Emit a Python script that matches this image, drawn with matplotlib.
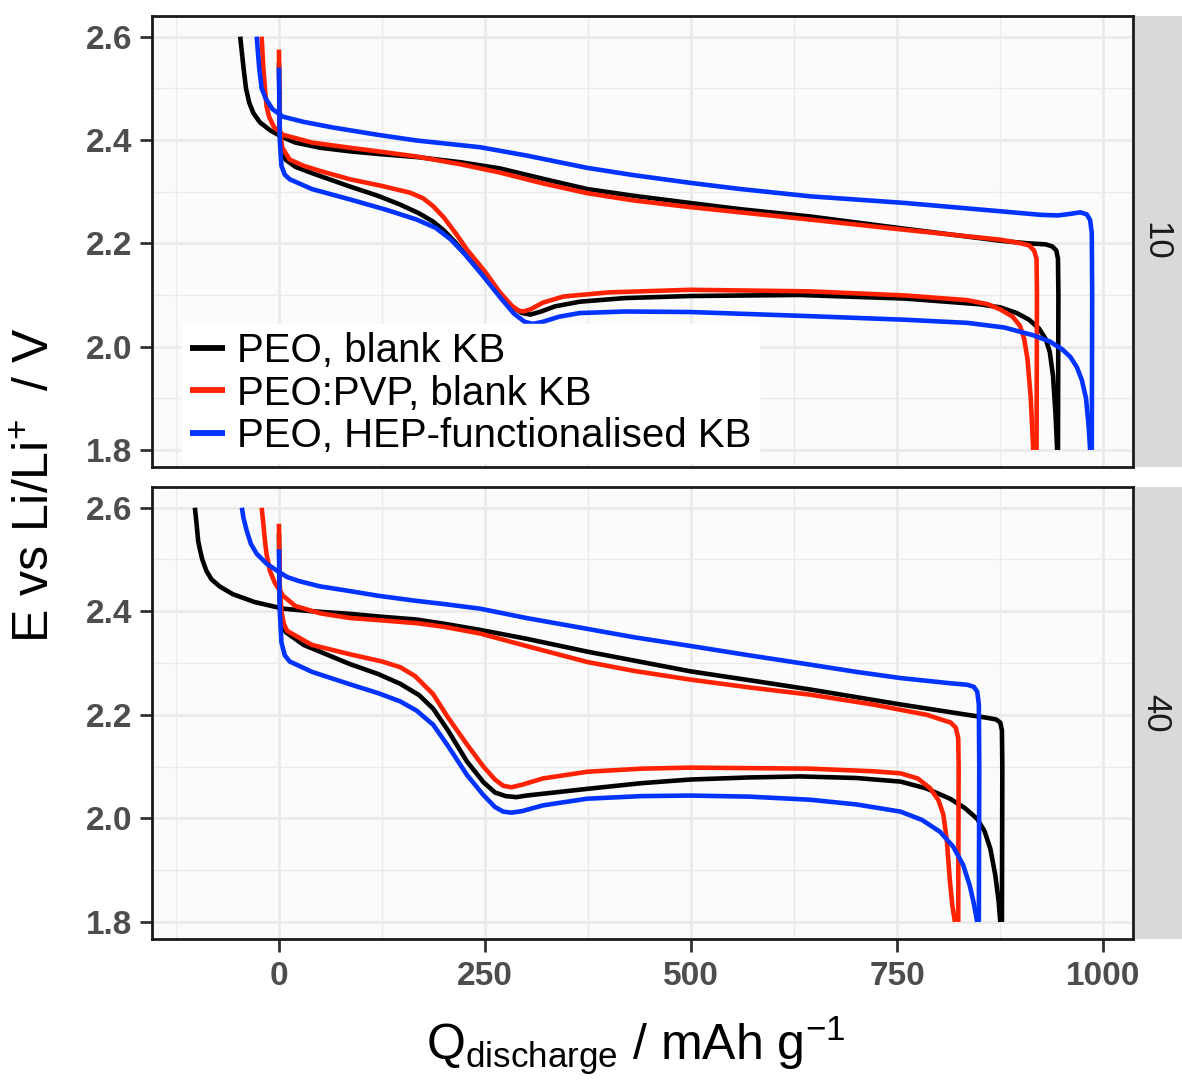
import matplotlib
matplotlib.use("Agg")
import matplotlib.pyplot as plt
from matplotlib.ticker import MultipleLocator

plt.rcParams['font.family'] = ['Liberation Sans', 'DejaVu Sans']
plt.rcParams['mathtext.fontset'] = 'custom'
plt.rcParams['mathtext.rm'] = 'Liberation Sans'
plt.rcParams['mathtext.it'] = 'Liberation Sans:italic'
plt.rcParams['mathtext.bf'] = 'Liberation Sans:bold'

series_labels = ["PEO, blank KB", "PEO:PVP, blank KB", "PEO, HEP-functionalised KB"]
series_colors = ["#000000", "#ff2200", "#0033ff"]
facets = ["10", "40"]

# ---- panel "10" ----
q10_black_dis = [0, 1, 3, 8, 20, 45, 86, 120, 147, 170, 187, 200, 215, 228, 250, 268, 283, 295, 305, 318, 335, 365, 420, 499, 632, 760, 850, 875, 895, 910, 922, 930, 935, 939, 942, 944]
e10_black_dis = [2.55, 2.42, 2.385, 2.362, 2.348, 2.333, 2.31, 2.292, 2.275, 2.258, 2.242, 2.225, 2.2, 2.175, 2.135, 2.1, 2.077, 2.065, 2.062, 2.068, 2.078, 2.087, 2.094, 2.098, 2.10, 2.093, 2.082, 2.076, 2.065, 2.052, 2.035, 2.015, 1.99, 1.943, 1.87, 1.80]
q10_black_chg = [945, 945.5, 945, 943, 938, 930, 908, 875, 760, 644, 560, 499, 430, 374, 320, 268, 220, 167, 120, 86, 50, 20, 5, -10, -23, -31, -36, -40, -43, -45, -47]
e10_black_chg = [1.80, 2.10, 2.17, 2.186, 2.194, 2.198, 2.200, 2.205, 2.228, 2.252, 2.266, 2.278, 2.292, 2.305, 2.325, 2.345, 2.357, 2.367, 2.373, 2.378, 2.385, 2.395, 2.405, 2.418, 2.434, 2.452, 2.472, 2.50, 2.54, 2.57, 2.60]

q10_red_dis = [0, 1, 4, 13, 30, 50, 86, 125, 159, 175, 187, 200, 215, 228, 250, 268, 282, 290, 296, 305, 320, 345, 400, 499, 644, 760, 835, 860, 875, 890, 899, 904, 908, 912, 915]
e10_red_dis = [2.575, 2.42, 2.385, 2.362, 2.35, 2.34, 2.324, 2.311, 2.298, 2.287, 2.272, 2.25, 2.218, 2.188, 2.145, 2.105, 2.08, 2.07, 2.068, 2.072, 2.085, 2.097, 2.105, 2.11, 2.107, 2.099, 2.09, 2.082, 2.072, 2.058, 2.04, 2.015, 1.976, 1.90, 1.80]
q10_red_chg = [919, 919.5, 919, 916, 910, 900, 875, 760, 644, 499, 430, 374, 320, 268, 220, 167, 120, 86, 40, 5, -6, -12, -15, -17, -19, -21]
e10_red_chg = [1.80, 2.10, 2.17, 2.186, 2.196, 2.20, 2.207, 2.226, 2.246, 2.27, 2.283, 2.297, 2.316, 2.337, 2.353, 2.368, 2.378, 2.385, 2.395, 2.41, 2.425, 2.445, 2.465, 2.50, 2.54, 2.60]

q10_blue_dis = [0, 1, 3, 7, 13, 40, 86, 130, 167, 190, 208, 225, 248, 268, 285, 298, 308, 320, 340, 365, 420, 499, 644, 760, 835, 880, 915, 935, 950, 960, 968, 974, 979, 982, 984]
e10_blue_dis = [2.54, 2.40, 2.35, 2.333, 2.324, 2.305, 2.285, 2.265, 2.246, 2.23, 2.208, 2.18, 2.136, 2.096, 2.064, 2.048, 2.044, 2.048, 2.058, 2.065, 2.068, 2.067, 2.059, 2.052, 2.046, 2.037, 2.022, 2.01, 1.995, 1.98, 1.96, 1.935, 1.90, 1.85, 1.80]
q10_blue_chg = [986, 986.5, 986, 984, 980, 972, 960, 945, 925, 875, 760, 644, 560, 499, 430, 374, 300, 244, 167, 120, 66, 30, 5, -8, -16, -21, -24, -27]
e10_blue_chg = [1.80, 2.10, 2.22, 2.245, 2.256, 2.26, 2.257, 2.254, 2.255, 2.262, 2.278, 2.291, 2.305, 2.317, 2.332, 2.346, 2.37, 2.386, 2.399, 2.41, 2.424, 2.435, 2.445, 2.46, 2.48, 2.50, 2.54, 2.60]

# ---- panel "40" ----
q40_black_dis = [0, 1, 3, 8, 30, 86, 120, 147, 170, 187, 205, 228, 248, 262, 275, 288, 300, 374, 440, 499, 570, 632, 700, 754, 785, 814, 832, 847, 856, 863, 869, 873, 875]
e40_black_dis = [2.55, 2.42, 2.385, 2.36, 2.335, 2.298, 2.279, 2.26, 2.238, 2.212, 2.17, 2.11, 2.07, 2.05, 2.043, 2.041, 2.044, 2.057, 2.068, 2.075, 2.079, 2.081, 2.078, 2.071, 2.058, 2.038, 2.02, 1.999, 1.975, 1.941, 1.89, 1.84, 1.80]
q40_black_chg = [877, 877.5, 877, 875, 870, 860, 835, 754, 644, 570, 499, 430, 374, 300, 244, 200, 167, 120, 86, 40, 5, -30, -56, -72, -82, -88, -93, -96, -98, -100, -102]
e40_black_chg = [1.80, 2.10, 2.17, 2.185, 2.191, 2.194, 2.20, 2.22, 2.249, 2.267, 2.284, 2.305, 2.322, 2.347, 2.364, 2.376, 2.384, 2.39, 2.395, 2.40, 2.405, 2.418, 2.433, 2.448, 2.462, 2.478, 2.50, 2.52, 2.536, 2.57, 2.60]

q40_red_dis = [0, 1, 3, 6, 10, 40, 86, 125, 147, 165, 187, 205, 228, 248, 262, 272, 282, 295, 320, 374, 440, 499, 644, 720, 754, 775, 790, 800, 806, 810, 814, 817, 820]
e40_red_dis = [2.569, 2.45, 2.40, 2.375, 2.362, 2.335, 2.317, 2.303, 2.292, 2.275, 2.24, 2.195, 2.143, 2.10, 2.075, 2.063, 2.06, 2.065, 2.077, 2.09, 2.096, 2.098, 2.096, 2.091, 2.087, 2.077, 2.058, 2.035, 2.007, 1.96, 1.877, 1.83, 1.80]
q40_red_chg = [824, 824.5, 824, 821, 815, 805, 786, 720, 644, 570, 499, 430, 374, 300, 244, 200, 167, 120, 86, 50, 20, 5, -5, -11, -15, -17, -19, -21]
e40_red_chg = [1.80, 2.10, 2.155, 2.175, 2.185, 2.19, 2.20, 2.22, 2.239, 2.253, 2.268, 2.285, 2.302, 2.333, 2.357, 2.37, 2.377, 2.383, 2.387, 2.396, 2.41, 2.43, 2.455, 2.478, 2.51, 2.536, 2.57, 2.60]

q40_blue_dis = [0, 1, 3, 7, 13, 40, 86, 120, 147, 167, 187, 205, 228, 248, 262, 272, 282, 295, 320, 374, 440, 499, 570, 644, 700, 754, 780, 802, 818, 830, 838, 843, 847]
e40_blue_dis = [2.52, 2.40, 2.34, 2.315, 2.303, 2.283, 2.259, 2.242, 2.226, 2.208, 2.181, 2.14, 2.084, 2.045, 2.022, 2.013, 2.011, 2.014, 2.025, 2.038, 2.043, 2.044, 2.042, 2.036, 2.027, 2.013, 1.997, 1.974, 1.945, 1.91, 1.87, 1.835, 1.80]
q40_blue_chg = [849, 849.5, 849, 847, 843, 835, 814, 754, 700, 644, 570, 499, 430, 374, 300, 244, 200, 167, 120, 86, 50, 25, 10, -2, -15, -27, -34, -39, -43, -45]
e40_blue_chg = [1.80, 2.10, 2.22, 2.245, 2.254, 2.258, 2.261, 2.271, 2.283, 2.297, 2.315, 2.333, 2.35, 2.366, 2.387, 2.405, 2.414, 2.42, 2.43, 2.439, 2.448, 2.458, 2.466, 2.478, 2.492, 2.511, 2.53, 2.555, 2.58, 2.60]

panel_data = {
    "10": [((q10_black_dis, e10_black_dis), (q10_black_chg, e10_black_chg)),
           ((q10_red_dis, e10_red_dis), (q10_red_chg, e10_red_chg)),
           ((q10_blue_dis, e10_blue_dis), (q10_blue_chg, e10_blue_chg))],
    "40": [((q40_black_dis, e40_black_dis), (q40_black_chg, e40_black_chg)),
           ((q40_red_dis, e40_red_dis), (q40_red_chg, e40_red_chg)),
           ((q40_blue_dis, e40_blue_dis), (q40_blue_chg, e40_blue_chg))],
}

x_ticks = [0, 250, 500, 750, 1000]
y_ticks = [1.8, 2.0, 2.2, 2.4, 2.6]

W, H = 1182, 1082
fig = plt.figure(figsize=(W / 100, H / 100), dpi=100)
fig.patch.set_facecolor("white")

def fx(px):
    return px / W

def fy(py):
    return 1 - py / H

panel_px = [(16, 467), (487, 939)]
left_px, right_px = 152, 1133
tick_color = "#4d4d4d"
LW = 3.3

axes = []
for i, (facet, (top, bot)) in enumerate(zip(facets, panel_px)):
    ax = fig.add_axes([fx(left_px), fy(bot), fx(right_px - left_px), (bot - top) / H])
    ax.set_facecolor("#fbfbfb")
    ax.set_xlim(-154, 1036)
    ax.set_ylim(1.767, 2.640)
    ax.set_xticks(x_ticks)
    ax.set_yticks(y_ticks)
    ax.xaxis.set_minor_locator(MultipleLocator(125))
    ax.yaxis.set_minor_locator(MultipleLocator(0.1))
    ax.grid(True, which="major", color="#ebebeb", lw=2.0, zorder=0)
    ax.grid(True, which="minor", color="#ebebeb", lw=1.0, zorder=0)
    ax.set_axisbelow(True)
    ax.tick_params(which="minor", length=0)
    ax.tick_params(axis="y", which="major", direction="out", length=9, width=2,
                   color="#333333", labelsize=24, labelcolor=tick_color, pad=5)
    for lab in ax.get_yticklabels():
        lab.set_fontweight("bold")
    if i == 0:
        ax.tick_params(axis="x", which="major", length=0, labelbottom=False)
    else:
        ax.tick_params(axis="x", which="major", direction="out", length=9, width=2,
                       color="#333333", labelsize=24, labelcolor=tick_color, pad=7)
        for lab in ax.get_xticklabels():
            lab.set_fontweight("bold")
    for sp in ax.spines.values():
        sp.set_color("#1a1a1a")
        sp.set_linewidth(2.0)

    for (dis, chg), color, label in zip(panel_data[facet], series_colors, series_labels):
        ax.plot(dis[0], dis[1], color=color, lw=LW, solid_joinstyle="round",
                solid_capstyle="butt", zorder=3, label=label)
        ax.plot(chg[0], chg[1], color=color, lw=LW, solid_joinstyle="round",
                solid_capstyle="butt", zorder=3)

    # facet strip
    sax = fig.add_axes([fx(1135), fy(bot), 1 - fx(1135), (bot - top) / H])
    sax.set_facecolor("#d9d9d9")
    sax.set_xticks([])
    sax.set_yticks([])
    for sp in sax.spines.values():
        sp.set_visible(False)
    sax.text(0.45, 0.5, facet, rotation=-90, ha="center", va="center",
             fontsize=25, color="#1a1a1a", transform=sax.transAxes)
    axes.append(ax)

leg = axes[0].legend(loc="lower left", bbox_to_anchor=(0.031, 0.008), fontsize=29,
                     frameon=True, fancybox=False, framealpha=1.0, edgecolor="white",
                     handlelength=0.85, handletextpad=0.3, labelspacing=0.12,
                     borderpad=0.2, borderaxespad=0)
for line in leg.get_lines():
    line.set_linewidth(4.2)

fig.text(fx(36), fy(485), "E vs Li/Li$^{+}$  / V", rotation=90, ha="center", va="center",
         fontsize=36, color="black")
fig.text(fx(636), fy(1046), "Q$_{\\mathrm{discharge}}$ / mAh g$^{-1}$", ha="center", va="center",
         fontsize=36, color="black")

fig.savefig("out.png", dpi=100)
